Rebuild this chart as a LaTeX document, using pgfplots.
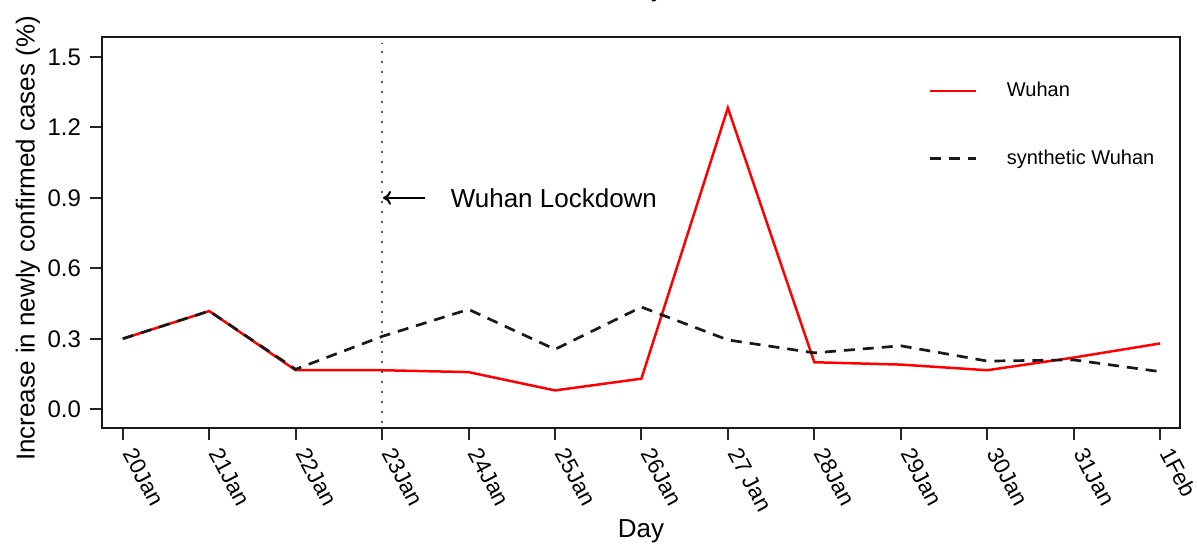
\documentclass[border=0pt]{standalone}
\usepackage{pgfplots}
\pgfplotsset{compat=1.18}
\usepackage{fontspec}
\setmainfont{Liberation Sans}
\usetikzlibrary{arrows.meta}
\begin{document}
\begin{tikzpicture}
\begin{axis}[
  at={(0,0)}, anchor=south west,
  scale only axis, width=539pt, height=195.5pt,
  xmin=-0.24, xmax=12.23, ymin=-0.08, ymax=1.585,
  tick style={line width=1pt, black!85},
  tick align=outside, major tick length=6pt,
  xtick pos=bottom, ytick pos=left,
  xtick={0,...,12},
  xticklabels={20Jan,21Jan,22Jan,23Jan,24Jan,25Jan,26Jan,27 Jan,28Jan,29Jan,30Jan,31Jan,1Feb},
  xticklabel style={rotate=-62, anchor=west, font=\fontsize{11.3}{13}\selectfont, inner sep=2pt, xshift=3.5pt, yshift=0.5pt},
  ytick={0,0.3,0.6,0.9,1.2,1.5},
  yticklabel style={/pgf/number format/fixed, /pgf/number format/fixed zerofill, /pgf/number format/precision=1, font=\fontsize{12}{14}\selectfont, xshift=-1pt},
  /pgf/number format/assume math mode=true,
  xlabel={Day}, ylabel={Increase in newly confirmed cases (\%)},
  label style={font=\fontsize{13}{15}\selectfont},
  xlabel style={at={(rel axis cs:0.5,0)}, anchor=base, yshift=-55pt},
  ylabel style={at={(rel axis cs:0,0.485)}, anchor=center, yshift=37pt},
  legend style={draw=none, fill=none, at={(0.766,0.895)}, anchor=north west,
    font=\fontsize{10}{12}\selectfont, row sep=21pt, inner sep=0pt},
  legend cell align=left,
  legend image code/.code={\draw[#1] (0pt,0pt) -- (23pt,0pt);},
  clip=false,
]
\addplot[red, line width=1.25pt] coordinates {
(0,0.300) (1,0.418) (2,0.166) (3,0.166) (4,0.158) (5,0.080) (6,0.130) (7,1.283) (8,0.200) (9,0.190) (10,0.166) (11,0.220) (12,0.280)};
\addlegendentry{\hspace{13pt}Wuhan}
\addplot[black!90, line width=1.35pt, dash pattern=on 5.5pt off 4pt] coordinates {
(0,0.300) (1,0.418) (2,0.170) (3,0.310) (4,0.425) (5,0.255) (6,0.435) (7,0.295) (8,0.240) (9,0.270) (10,0.205) (11,0.210) (12,0.160)};
\addlegendentry{\hspace{13pt}synthetic Wuhan}
\draw[gray!70!black, line width=1.1pt, dash pattern=on 1pt off 4pt] (axis cs:3,-0.06) -- (axis cs:3,1.56);
\draw[-{To[length=4pt,width=7pt]}, line width=1pt] (axis cs:3.5,0.9) -- (axis cs:3.01,0.9);
\node[anchor=west, font=\fontsize{13}{15}\selectfont, inner sep=0pt] at (axis cs:3.79,0.9) {Wuhan Lockdown};
\draw[line width=1.2pt, black!90] (rel axis cs:0,0) rectangle (rel axis cs:1,1);
\end{axis}
\node[anchor=base, font=\fontsize{13}{15}\selectfont] at (269.5pt,215.5pt) {Day};
\pgfresetboundingbox
\useasboundingbox (-51pt,-60.5pt) rectangle (547.5pt,214pt);
\end{tikzpicture}
\end{document}
